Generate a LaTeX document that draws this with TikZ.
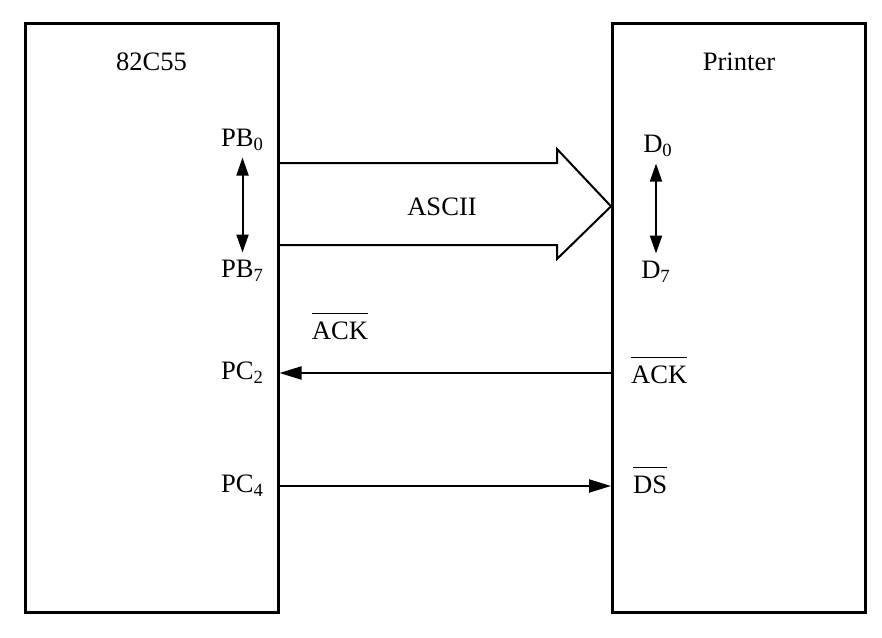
\documentclass[tikz,border=0pt]{standalone}
\usepackage{fontspec}
\setmainfont{Liberation Serif}
\usepackage{tikz}
\usetikzlibrary{positioning, arrows.meta}
\tikzset{box/.style={draw, line width=1.5pt, minimum width=126.5pt, minimum height=294.5pt}, sig/.style={line width=1pt, ->, >={Triangle[length=11pt, width=6.5pt]}}, dbl/.style={line width=1pt, <->, >={Triangle[length=9pt, width=6pt]}}, bus/.style={line width=1pt, line join=miter}}
\newcommand{\ovl}[1]{$\overline{\mbox{\rule{0pt}{11.5pt}#1}}$}

\begin{document}
\begin{tikzpicture}[x=0.5pt, y=-0.5pt, every node/.style={font=\fontsize{13.3}{16}\selectfont}]
	\useasboundingbox (0,0) rectangle (882,637);
	\node[box] (PPI) at (151.5,317.5) {};
	\node[box] (Printer) at (739,317.5) {};
	\node[below=12pt of PPI.north] (PPI name) {82C55};
	\node[below=12pt of Printer.north] (Printer name) {Printer};
	\node[anchor=base east] (PB0) at (271,146) {PB\textsubscript{0}};
	\node[anchor=base east] (PB7) at (271,277) {PB\textsubscript{7}};
	\node[anchor=east] (PC2) at (271,373) {PC\textsubscript{2}};
	\node[anchor=east] (PC4) at (271,486) {PC\textsubscript{4}};
	\node[anchor=base] (D0) at (658,152) {D\textsubscript{0}};
	\node[anchor=base] (D7) at (656,278) {D\textsubscript{7}};
	\node[anchor=base west] (ACK in) at (624,383) {\ovl{ACK}};
	\node[anchor=base west] (DS) at (626,493) {\ovl{DS}};
	\node[anchor=base] (ACK) at (340,339) {\ovl{ACK}};
	\node[anchor=base] (ASCII) at (442,215) {ASCII};
	\draw[bus] (PPI.east |- 0,163) -- (557,163) -- (557,149) -- (Printer.west |- ASCII) -- (557,259) -- (557,245) -- (PPI.east |- 0,245);
	\draw[dbl] (PB0.south) -- (PB0.south |- PB7.north);
	\draw[dbl] (D7.north |- D0.south) -- (D7.north);
	\draw[sig] (Printer.west |- PC2) -- (PPI.east |- PC2);
	\draw[sig] (PPI.east |- PC4) -- (Printer.west |- PC4);
\end{tikzpicture}
\end{document}
